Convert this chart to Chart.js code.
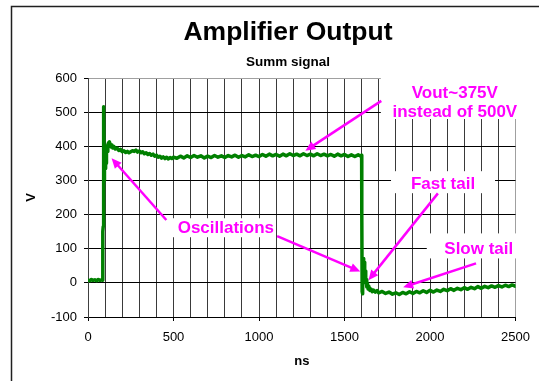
<!DOCTYPE html>
<html>
<head>
<meta charset="utf-8">
<title>Amplifier Output</title>
<script src="https://cdn.jsdelivr.net/npm/chart.js@4/dist/chart.umd.min.js"></script>
<style>
	html, body { margin: 0; padding: 0; background: #ffffff; }
	#ampChart { display: block; }
</style>
</head>
<body>
<canvas id="ampChart" width="539" height="381"></canvas>
<script>
"use strict";

// trace (ns, V)
var timeNs = [
	0, 10, 20, 30, 40, 50, 60, 70, 80, 84, 86, 87, 89, 90, 91, 92, 93, 94, 95, 96, 98,
	100, 102, 104, 106, 108, 112, 116, 120, 125, 130, 135, 140, 145, 150, 160, 170, 180, 190,
	200, 210, 220, 230, 240, 250, 260, 270, 280, 290, 300, 310, 320, 330, 340, 350, 360, 370,
	380, 390, 400, 410, 420, 430, 440, 450, 460, 470, 480, 490, 500,
	520, 540, 560, 580, 600, 620, 640, 660, 680, 700, 720, 740, 760, 780, 800,
	820, 840, 860, 880, 900, 920, 940, 960, 980, 1000, 1020, 1040, 1060, 1080, 1100,
	1120, 1140, 1160, 1180, 1200, 1220, 1240, 1260, 1280, 1300, 1320, 1340, 1360, 1380, 1400,
	1420, 1440, 1460, 1480, 1500, 1520, 1540, 1560, 1580, 1595, 1600,
	1601, 1603, 1605, 1607, 1609, 1611, 1613, 1615, 1618, 1621, 1624, 1627, 1630, 1634, 1638,
	1642, 1648, 1655, 1662, 1670, 1680, 1690, 1700, 1720, 1740, 1760, 1780, 1800,
	1820, 1840, 1860, 1880, 1900, 1920, 1940, 1960, 1980, 2000, 2020, 2040, 2060, 2080, 2100,
	2120, 2140, 2160, 2180, 2200, 2220, 2240, 2260, 2280, 2300, 2320, 2340, 2360, 2380, 2400,
	2420, 2440, 2460, 2480, 2500
];

var voltsV = [
	8, 6, 10, 7, 9, 6, 10, 7, 9, 8, 40, 150, 165, 250, 420, 516, 500, 380, 320, 300, 370,
	395, 335, 390, 350, 400, 385, 405, 410, 413, 406, 398, 404, 395, 400, 392, 395, 388, 391,
	384, 387, 382, 385, 381, 384, 387, 385, 389, 383, 386, 381, 384, 378, 381, 376, 379, 374,
	377, 371, 374, 368, 371, 365, 369, 364, 368, 363, 367, 364, 368,
	365, 371, 366, 372, 367, 373, 368, 372, 366, 371, 367, 373, 368, 372, 367,
	373, 369, 374, 368, 373, 369, 375, 370, 374, 370, 376, 371, 377, 372, 376,
	371, 377, 372, 378, 373, 377, 372, 378, 373, 377, 372, 378, 373, 377, 372,
	376, 371, 377, 372, 376, 370, 375, 370, 375, 371, 374,
	200, -25, -32, 10, 55, 71, 40, 60, 20, 35, 0, 10, -12, -2, -18,
	-10, -22, -18, -26, -21, -27, -23, -29, -25, -31, -27, -33, -29,
	-34, -28, -32, -26, -31, -25, -29, -23, -28, -22, -27, -21, -25, -19, -23,
	-17, -22, -16, -20, -14, -19, -13, -17, -11, -16, -10, -14, -9, -13, -8,
	-12, -7, -11, -6, -10
];

var xLabelTicks = [0, 500, 1000, 1500, 2000, 2500];
var yTicks = [-100, 0, 100, 200, 300, 400, 500, 600];

// call-outs, anchored in data units
var notes = [
	{ lines: ["Vout~375V", "instead of 500V"], x: 2145, y: 556, box: [-74, -17, 74, 26] },
	{ lines: ["Fast tail"], x: 2076, y: 289, box: [-52, -13, 52, 9] },
	{ lines: ["Slow tail"], x: 2285, y: 98, box: [-52, -16, 54, 9] },
	{ lines: ["Oscillations"], x: 806, y: 160, box: [-54, -10, 50, 9] }
];

var arrows = [
	[1715, 533, 1271, 387],
	[2046, 262, 1640, 8],
	[2269, 57, 1843, -13],
	[458, 184, 138, 365],
	[1106, 137, 1592, 33]
];

var fontFamily = "'Liberation Sans', Arial, sans-serif";
var magenta = "#ff00ff";

Chart.defaults.font.family = fontFamily;
Chart.defaults.color = "#000000";

function drawArrow(ctx, x1, y1, x2, y2) {
	var ang = Math.atan2(y2 - y1, x2 - x1);
	var headLen = 10;
	var headW = 4.5;

	ctx.beginPath();
	ctx.moveTo(x1, y1);
	ctx.lineTo(x2 - Math.cos(ang) * headLen * 0.8, y2 - Math.sin(ang) * headLen * 0.8);
	ctx.stroke();

	ctx.beginPath();
	ctx.moveTo(x2, y2);
	ctx.lineTo(x2 - Math.cos(ang) * headLen - Math.sin(ang) * headW, y2 - Math.sin(ang) * headLen + Math.cos(ang) * headW);
	ctx.lineTo(x2 - Math.cos(ang) * headLen + Math.sin(ang) * headW, y2 - Math.sin(ang) * headLen - Math.cos(ang) * headW);
	ctx.closePath();
	ctx.fill();
}

var decorPlugin = {
	id: "decor",
	beforeDraw: function (chart) {
		var ctx = chart.ctx;
		ctx.save();
		// outer chart frame
		ctx.strokeStyle = "#202020";
		ctx.lineWidth = 1.5;
		ctx.beginPath();
		ctx.moveTo(11.5, 400);
		ctx.lineTo(11.5, 6.5);
		ctx.lineTo(560, 6.5);
		ctx.stroke();

		ctx.fillStyle = "#000000";
		ctx.textAlign = "center";
		ctx.textBaseline = "middle";
		ctx.font = "bold 26.5px " + fontFamily;
		ctx.fillText("Amplifier Output", 288, 33);
		ctx.font = "bold 13.5px " + fontFamily;
		ctx.fillText("Summ signal", 288, 62);
		ctx.restore();
	},
	afterDatasetsDraw: function (chart) {
		var ctx = chart.ctx;
		var xs = chart.scales.x;
		var ys = chart.scales.y;
		ctx.save();

		notes.forEach(function (n) {
			var cx = xs.getPixelForValue(n.x);
			var cy = ys.getPixelForValue(n.y);
			ctx.fillStyle = "#ffffff";
			ctx.fillRect(cx + n.box[0], cy + n.box[1], n.box[2] - n.box[0], n.box[3] - n.box[1]);
			ctx.fillStyle = magenta;
			ctx.font = "bold 17px " + fontFamily;
			ctx.textAlign = "center";
			ctx.textBaseline = "middle";
			n.lines.forEach(function (line, i) {
				ctx.fillText(line, cx, cy + i * 19);
			});
		});

		ctx.strokeStyle = magenta;
		ctx.fillStyle = magenta;
		ctx.lineWidth = 2.5;
		arrows.forEach(function (a) {
			drawArrow(ctx,
				xs.getPixelForValue(a[0]), ys.getPixelForValue(a[1]),
				xs.getPixelForValue(a[2]), ys.getPixelForValue(a[3]));
		});
		ctx.restore();
	}
};

var points = timeNs.map(function (t, i) {
	return { x: t, y: voltsV[i] };
});

var config = {
	type: "line",
	data: {
		datasets: [{
			label: "Summ signal",
			data: points,
			borderColor: "#008000",
			backgroundColor: "#008000",
			borderWidth: 3.5,
			borderJoinStyle: "round",
			borderCapStyle: "round",
			pointRadius: 0,
			tension: 0
		}]
	},
	options: {
		responsive: false,
		animation: false,
		devicePixelRatio: 1,
		layout: {
			padding: { top: 78, right: 21, bottom: 0, left: 0 }
		},
		plugins: {
			legend: { display: false },
			tooltip: { enabled: false }
		},
		scales: {
			x: {
				type: "linear",
				min: 0,
				max: 2500,
				afterFit: function (scale) { scale.height = 64; },
				ticks: {
					stepSize: 100,
					autoSkip: false,
					maxRotation: 0,
					padding: 9,
					font: { size: 13 },
					callback: function (value) {
						return xLabelTicks.indexOf(value) >= 0 ? String(value) : "";
					}
				},
				grid: {
					color: function (c) {
						return c.tick && c.tick.value === 2500 ? "#a0a0a0" : "#3a3a3a";
					},
					tickColor: function (c) {
						return c.tick && xLabelTicks.indexOf(c.tick.value) >= 0 ? "#000000" : "rgba(0,0,0,0)";
					},
					tickLength: 4,
					lineWidth: 1
				},
				border: { color: "#000000", width: 1 },
				title: {
					display: true,
					text: "ns",
					font: { size: 13, weight: "bold" },
					padding: { top: 0, bottom: 12 }
				}
			},
			y: {
				min: -100,
				max: 600,
				afterFit: function (scale) { scale.width = 88; },
				afterBuildTicks: function (scale) {
					scale.ticks = yTicks.map(function (v) { return { value: v }; });
				},
				ticks: {
					padding: 7,
					font: { size: 13 }
				},
				grid: {
					color: function (c) {
						return c.tick && c.tick.value === 600 ? "#a0a0a0" : "#000000";
					},
					tickColor: "#000000",
					tickLength: 4,
					lineWidth: 1
				},
				border: { color: "#404040", width: 1 },
				title: {
					display: true,
					text: "V",
					font: { size: 13, weight: "bold" },
					padding: { top: 24, bottom: 0 }
				}
			}
		}
	},
	plugins: [decorPlugin]
};

new Chart(document.getElementById("ampChart").getContext("2d"), config);
</script>
</body>
</html>
